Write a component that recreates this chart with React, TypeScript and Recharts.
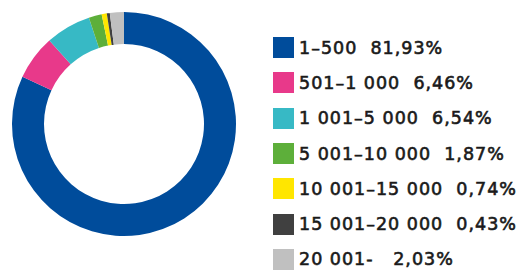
import { PieChart, Pie, Cell, Legend } from 'recharts';

const ranges = ['1–500', '501–1 000', '1 001–5 000', '5 001–10 000', '10 001–15 000', '15 001–20 000', '20 001-'];
const shares = [81.93, 6.46, 6.54, 1.87, 0.74, 0.43, 2.03];
const shareLabels = ['81,93%', '6,46%', '6,54%', '1,87%', '0,74%', '0,43%', '2,03%'];
const gaps = ['  ', '  ', '  ', '  ', '  ', '  ', '   '];
const colors = ['#004c9b', '#e8398a', '#37b9c5', '#5daf3a', '#ffe600', '#404040', '#c0c0c0'];

const data = ranges.map((r, i) => ({ name: r, value: shares[i], label: shareLabels[i] }));

const LegendList = () => (
  <div
    style={{
      fontFamily: '"DejaVu Sans", sans-serif',
      fontWeight: 400,
      fontSize: 17.5,
      letterSpacing: 1,
      WebkitTextStroke: '0.6px #1a1a1a',
      color: '#1a1a1a',
    }}
  >
    {data.map((d, i) => (
      <div key={d.name} style={{ display: 'flex', alignItems: 'center', height: 35.3 }}>
        <span style={{ width: 21, height: 21, background: colors[i], marginRight: 5, flexShrink: 0 }} />
        <span style={{ whiteSpace: 'pre' }}>{`${d.name}${gaps[i]}${d.label}`}</span>
      </div>
    ))}
  </div>
);

export default function App() {
  return (
    <div style={{ position: 'absolute', left: 0, top: 0, width: 525, height: 271, background: '#fff' }}>
      <PieChart width={525} height={271} margin={{ top: 0, right: 0, bottom: 0, left: 0 }}>
        <Pie
          data={data}
          dataKey="value"
          cx={124}
          cy={124}
          innerRadius={80}
          outerRadius={112}
          startAngle={90}
          endAngle={-270}
          stroke="none"
          isAnimationActive={false}
        >
          {data.map((d, i) => (
            <Cell key={d.name} fill={colors[i]} />
          ))}
        </Pie>
        <Legend content={<LegendList />} wrapperStyle={{ left: 273, top: 30, width: 252 }} />
      </PieChart>
    </div>
  );
}
